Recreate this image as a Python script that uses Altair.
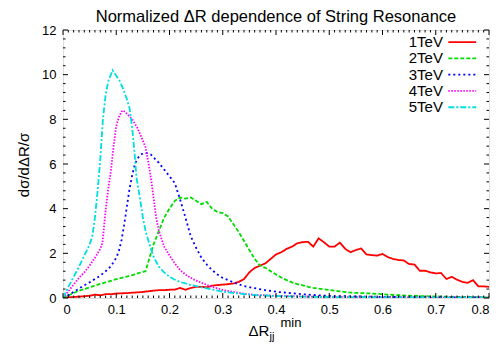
import altair as alt
import pandas as pd

series = ["1TeV", "2TeV", "3TeV", "4TeV", "5TeV"]
colors = ["#ff0000", "#00dd00", "#0000ff", "#ff00ff", "#00e0e0"]
dashes = [[1, 0], [4, 2], [2, 3], [1.5, 1.5], [6, 2, 2, 2]]

x1 = [round(i * 0.01, 2) for i in range(81)]
y1 = [0, 0.03, 0.05, 0.06, 0.08, 0.1, 0.15, 0.12, 0.17, 0.17,
      0.2, 0.21, 0.22, 0.24, 0.25, 0.27, 0.3, 0.33, 0.35, 0.35,
      0.37, 0.38, 0.45, 0.37, 0.45, 0.5, 0.5, 0.48, 0.55, 0.58,
      0.6, 0.62, 0.65, 0.72, 0.85, 1.15, 1.35, 1.45, 1.55, 1.75,
      1.95, 2.05, 2.2, 2.3, 2.45, 2.5, 2.52, 2.3, 2.67, 2.5,
      2.3, 2.3, 2.48, 2.2, 2.05, 2.15, 2.22, 1.95, 1.92, 1.9,
      1.97, 1.83, 1.75, 1.7, 1.68, 1.52, 1.5, 1.22, 1.22, 1.15,
      1.1, 1.12, 0.85, 0.95, 0.82, 0.72, 0.68, 0.8, 0.52, 0.52, 0.5]

x2 = [0, 0.01, 0.02, 0.03, 0.04, 0.05, 0.06, 0.07, 0.08, 0.09, 0.1, 0.11, 0.12, 0.13, 0.14, 0.15, 0.155,
      0.16, 0.17, 0.18, 0.19, 0.2, 0.21, 0.22, 0.23, 0.24, 0.25, 0.26, 0.27, 0.28, 0.29, 0.3, 0.31,
      0.32, 0.33, 0.34, 0.35, 0.36, 0.37, 0.38, 0.39, 0.4, 0.41, 0.42, 0.43, 0.44, 0.45, 0.46, 0.47,
      0.48, 0.5, 0.52, 0.54, 0.56, 0.58, 0.6, 0.62, 0.65, 0.7, 0.75, 0.8]
y2 = [0, 0.12, 0.22, 0.33, 0.4, 0.48, 0.55, 0.63, 0.7, 0.77, 0.84, 0.9, 0.96, 1.02, 1.1, 1.17, 1.2,
      1.6, 2.4, 3.0, 3.6, 4.0, 4.35, 4.5, 4.45, 4.5, 4.35, 4.2, 4.3, 4.0, 3.85, 3.8, 3.65,
      3.3, 2.95, 2.55, 2.15, 1.75, 1.45, 1.35, 1.2, 1.05, 0.92, 0.8, 0.7, 0.62, 0.57, 0.5, 0.45,
      0.42, 0.36, 0.3, 0.24, 0.22, 0.2, 0.17, 0.14, 0.1, 0.07, 0.04, 0.03]

x3 = [0, 0.01, 0.02, 0.03, 0.04, 0.05, 0.06, 0.07, 0.08, 0.09, 0.1, 0.105, 0.11, 0.115, 0.12, 0.125,
      0.13, 0.135, 0.14, 0.145, 0.15, 0.155, 0.16, 0.165, 0.17, 0.18, 0.19, 0.2, 0.21, 0.22, 0.23,
      0.24, 0.25, 0.26, 0.27, 0.28, 0.29, 0.3, 0.32, 0.34, 0.36, 0.38, 0.4, 0.43, 0.46, 0.5, 0.55,
      0.6, 0.7, 0.8]
y3 = [0, 0.13, 0.27, 0.42, 0.57, 0.7, 0.85, 1.0, 1.2, 1.42, 1.8, 2.1, 2.6, 3.3, 4.1, 4.9,
      5.5, 6.0, 6.25, 6.4, 6.47, 6.5, 6.47, 6.42, 6.3, 6.05, 5.75, 5.45, 5.15, 4.4, 3.6,
      2.75, 2.25, 1.8, 1.5, 1.25, 1.05, 0.9, 0.7, 0.53, 0.44, 0.35, 0.28, 0.21, 0.15, 0.09, 0.07,
      0.05, 0.03, 0.02]

x4 = [0, 0.01, 0.02, 0.03, 0.04, 0.05, 0.06, 0.07, 0.074, 0.08, 0.085, 0.09, 0.095, 0.1, 0.105,
      0.11, 0.113, 0.12, 0.13, 0.14, 0.15, 0.155, 0.16, 0.165, 0.17, 0.175, 0.18, 0.19, 0.2, 0.21,
      0.22, 0.23, 0.24, 0.25, 0.26, 0.28, 0.3, 0.32, 0.34, 0.36, 0.4, 0.45, 0.5, 0.6, 0.7, 0.8]
y4 = [0, 0.3, 0.6, 0.9, 1.15, 1.45, 1.8, 2.2, 2.45, 3.9, 4.9, 5.7, 6.8, 7.7, 8.1,
      8.35, 8.4, 8.25, 8.0, 7.6, 7.05, 6.75, 6.1, 5.4, 4.5, 3.6, 3.0, 2.3, 1.9, 1.55,
      1.25, 1.05, 0.9, 0.78, 0.68, 0.5, 0.36, 0.27, 0.19, 0.14, 0.1, 0.07, 0.05, 0.03, 0.02, 0.02]

x5 = [0, 0.01, 0.02, 0.03, 0.04, 0.05, 0.055, 0.06, 0.065, 0.07, 0.075, 0.08, 0.085, 0.09, 0.093,
      0.1, 0.107, 0.114, 0.12, 0.125, 0.13, 0.134, 0.138, 0.145, 0.15, 0.155, 0.16, 0.17, 0.18,
      0.19, 0.2, 0.21, 0.22, 0.23, 0.24, 0.26, 0.28, 0.3, 0.33, 0.36, 0.4, 0.45, 0.5, 0.6, 0.7, 0.8]
y5 = [0, 0.5, 0.95, 1.4, 1.9, 2.4, 2.75, 3.6, 4.8, 6.2, 8.0, 9.1, 9.7, 10.0, 10.2,
      9.95, 9.7, 9.3, 8.9, 8.5, 7.6, 6.6, 5.4, 4.4, 3.6, 3.0, 2.6, 1.85, 1.4,
      1.15, 0.95, 0.82, 0.72, 0.65, 0.58, 0.48, 0.38, 0.28, 0.2, 0.13, 0.09, 0.06, 0.04, 0.03, 0.02, 0.02]

x_major = [round(i * 0.1, 1) for i in range(9)]
x_minor = [round(i * 0.01, 2) for i in range(81) if i % 10 != 0]
y_major = [0, 2, 4, 6, 8, 10, 12]
y_minor = [round(i * 0.4, 1) for i in range(31) if i % 5 != 0]

rows = []
for name, xs_, ys_ in zip(series, [x1, x2, x3, x4, x5], [y1, y2, y3, y4, y5]):
    for a, b in zip(xs_, ys_):
        rows.append({"series": name, "x": a, "y": b})
df = pd.DataFrame(rows)

W, H = 426, 268
FONT = "Liberation Sans"
xsc = alt.Scale(domain=[0, 0.8], nice=False, zero=False)
ysc = alt.Scale(domain=[0, 12], nice=False, zero=False)
csc = alt.Scale(domain=series, range=colors)
dsc = alt.Scale(domain=series, range=dashes)

lines = alt.Chart(df).mark_line(strokeWidth=1.8, clip=True).encode(
    x=alt.X("x:Q", scale=xsc, axis=alt.Axis(values=x_major, ticks=False, domain=False, grid=False,
                                             labelFontSize=13, labelFont=FONT, labelColor="black",
                                             labelPadding=5, title=None,
                                             labelExpr="datum.value == 0 ? '0' : format(datum.value, '.1f')")),
    y=alt.Y("y:Q", scale=ysc, axis=alt.Axis(values=y_major, ticks=False, domain=False, grid=False,
                                             labelFontSize=13, labelFont=FONT, labelColor="black",
                                             labelPadding=7, title=None)),
    color=alt.Color("series:N", scale=csc, legend=None),
    strokeDash=alt.StrokeDash("series:N", scale=dsc, legend=None),
)

# legend (gnuplot style: label then sample, top right)
leg = pd.DataFrame({"series": series, "i": list(range(len(series)))})
leg_base = alt.Chart(leg).transform_calculate(
    ly="11.46 - 0.73 * datum.i", lx=str(0.7135), lx1=str(0.7236), lx2=str(0.776)
)
leg_text = leg_base.mark_text(align="right", baseline="middle", fontSize=15, font=FONT, color="black").encode(
    x=alt.X("lx:Q", scale=xsc), y=alt.Y("ly:Q", scale=ysc), text="series:N"
)
leg_line = leg_base.mark_rule(strokeWidth=1.8).encode(
    x=alt.X("lx1:Q", scale=xsc), x2="lx2:Q", y=alt.Y("ly:Q", scale=ysc),
    color=alt.Color("series:N", scale=csc, legend=None),
    strokeDash=alt.StrokeDash("series:N", scale=dsc, legend=None),
)

def xticks(vals, L):
    d = alt.Chart(pd.DataFrame({"v": vals}))
    b = d.mark_rule(color="black", strokeWidth=1).encode(x=alt.X("v:Q", scale=xsc), y=alt.value(H), y2=alt.value(H - L))
    t = d.mark_rule(color="black", strokeWidth=1).encode(x=alt.X("v:Q", scale=xsc), y=alt.value(0), y2=alt.value(L))
    return [b, t]

def yticks(vals, L):
    d = alt.Chart(pd.DataFrame({"v": vals}))
    l = d.mark_rule(color="black", strokeWidth=1).encode(y=alt.Y("v:Q", scale=ysc), x=alt.value(0), x2=alt.value(L))
    r = d.mark_rule(color="black", strokeWidth=1).encode(y=alt.Y("v:Q", scale=ysc), x=alt.value(W), x2=alt.value(W - L))
    return [l, r]

ticks = xticks(x_major, 5) + xticks(x_minor, 2.5) + yticks(y_major, 5) + yticks(y_minor, 2.5)

def label(txt, x, y, size, align="left", baseline="alphabetic", angle=0):
    return alt.Chart(pd.DataFrame({"t": [txt]})).mark_text(
        align=align, baseline=baseline, fontSize=size, font=FONT, color="black", angle=angle
    ).encode(x=alt.value(x), y=alt.value(y), text="t:N")

texts = [
    label("Normalized \u0394R dependence of String Resonance", W / 2, -8, 16.5, align="center"),
    label("d\u03c3/d\u0394R/\u03c3", -39, 135, 15, align="center", baseline="middle", angle=270),
    label("\u0394R", 185.5, 306, 15),
    label("jj", 206.5, 310, 11),
    label("min", 217.5, 297, 13),
]

chart = alt.layer(lines, leg_line, leg_text, *ticks, *texts).properties(
    width=W, height=H,
    autosize=alt.AutoSizeParams(type="none"),
    padding={"left": 55, "top": 22, "right": 3, "bottom": 44},
).configure_view(stroke="black", strokeWidth=1).configure(background="white")

chart.save("out.html", embed_options={"renderer": "svg", "actions": False})
